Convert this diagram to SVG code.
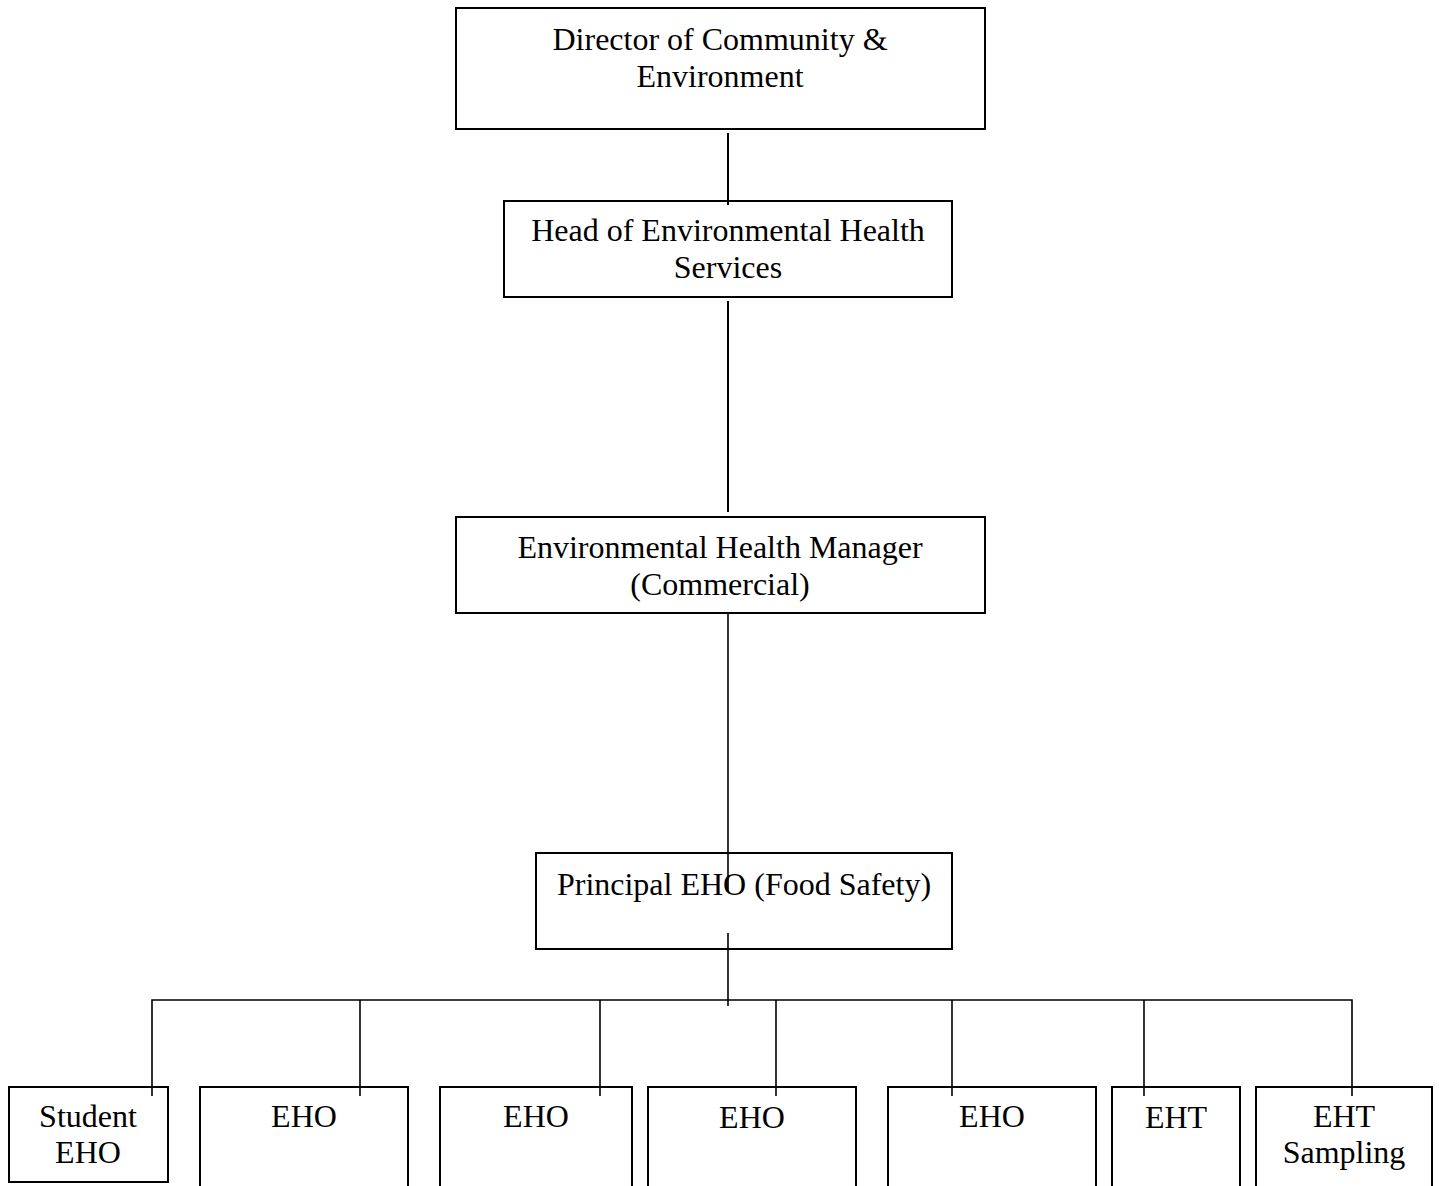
<svg xmlns="http://www.w3.org/2000/svg" width="1439" height="1186" viewBox="0 0 1439 1186">
<style>
  .box { fill: #ffffff; stroke: #000000; stroke-width: 2; }
  .lbl { font-family: "Liberation Serif", "Times New Roman", serif; font-size: 32px; fill: #000000; text-anchor: middle; }
  .con { stroke: #000000; stroke-width: 2; fill: none; }
  .con2 { stroke: #000000; stroke-width: 1.6; fill: none; }
</style>
<rect width="1439" height="1186" fill="#ffffff"/>
<g id="director">
  <rect class="box" x="456" y="8" width="529" height="121"/>
  <text class="lbl" x="720" y="50">Director of Community &amp;</text>
  <text class="lbl" x="720" y="87">Environment</text>
</g>
<g id="head">
  <rect class="box" x="504" y="201" width="448" height="96"/>
  <text class="lbl" x="728" y="241">Head of Environmental Health</text>
  <text class="lbl" x="728" y="278">Services</text>
</g>
<g id="manager">
  <rect class="box" x="456" y="517" width="529" height="96"/>
  <text class="lbl" x="720" y="558">Environmental Health Manager</text>
  <text class="lbl" x="720" y="595">(Commercial)</text>
</g>
<g id="principal">
  <rect class="box" x="536" y="853" width="416" height="96"/>
  <text class="lbl" x="744" y="895">Principal EHO (Food Safety)</text>
</g>
<g id="student-eho">
  <rect class="box" x="9" y="1087" width="159" height="95"/>
  <text class="lbl" x="88" y="1127">Student</text>
  <text class="lbl" x="88" y="1163">EHO</text>
</g>
<g id="eho1">
  <rect class="box" x="200" y="1087" width="208" height="200"/>
  <text class="lbl" x="304" y="1127">EHO</text>
</g>
<g id="eho2">
  <rect class="box" x="440" y="1087" width="192" height="200"/>
  <text class="lbl" x="536" y="1127">EHO</text>
</g>
<g id="eho3">
  <rect class="box" x="648" y="1087" width="208" height="200"/>
  <text class="lbl" x="752" y="1128">EHO</text>
</g>
<g id="eho4">
  <rect class="box" x="888" y="1087" width="208" height="200"/>
  <text class="lbl" x="992" y="1127">EHO</text>
</g>
<g id="eht">
  <rect class="box" x="1112" y="1087" width="128" height="200"/>
  <text class="lbl" x="1176" y="1128">EHT</text>
</g>
<g id="eht-sampling">
  <rect class="box" x="1256" y="1087" width="176" height="200"/>
  <text class="lbl" x="1344" y="1127">EHT</text>
  <text class="lbl" x="1344" y="1163">Sampling</text>
</g>
<g id="connectors">
  <line class="con" x1="728" y1="133" x2="728" y2="205"/>
  <line class="con" x1="728" y1="301" x2="728" y2="512"/>
  <line class="con2" x1="728" y1="613" x2="728" y2="892"/>
  <line class="con2" x1="728" y1="933" x2="728" y2="1006"/>
  <polyline class="con2" points="152,1096 152,1000 1352,1000 1352,1096"/>
  <line class="con2" x1="360" y1="1000" x2="360" y2="1096"/>
  <line class="con2" x1="600" y1="1000" x2="600" y2="1096"/>
  <line class="con2" x1="776" y1="1000" x2="776" y2="1096"/>
  <line class="con2" x1="952" y1="1000" x2="952" y2="1096"/>
  <line class="con2" x1="1144" y1="1000" x2="1144" y2="1096"/>
</g>
</svg>
